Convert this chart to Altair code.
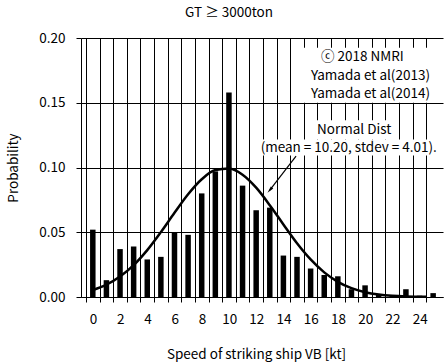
import altair as alt
import pandas as pd

FONT = "Noto Sans CJK JP"

# Histogram: speed bins (kt) and probabilities
speed = [0, 1, 2, 3, 4, 5, 6, 7, 8, 9, 10, 11, 12, 13, 14, 15, 16, 17, 18, 19, 20, 21, 22, 23, 24, 25]
prob = [0.052, 0.013, 0.037, 0.039, 0.029, 0.031, 0.050, 0.048, 0.080, 0.097,
        0.158, 0.086, 0.067, 0.069, 0.032, 0.031, 0.022, 0.017, 0.016, 0.006,
        0.009, 0.002, 0.001, 0.006, 0.001, 0.003]

# Normal distribution curve
curve_x = [0.5, 1.5, 2.5, 3.5, 4.5, 5.5, 6.5, 7.5, 8.5, 9.5, 10.5, 11.5, 12.5,
           13.5, 14.5, 15.5, 16.5, 17.5, 18.5, 19.5, 20.5, 21.5, 22.5, 23.5, 24.5, 25.0]
curve_y = [0.0053, 0.0095, 0.0158, 0.0246, 0.0362, 0.0501, 0.0650, 0.0793, 0.0909,
           0.0980, 0.0992, 0.0944, 0.0844, 0.0709, 0.0560, 0.0415, 0.0290, 0.0190,
           0.0117, 0.0068, 0.0037, 0.0019, 0.0009, 0.0004, 0.0002, 0.0001]

# Tick positions
x_ticks = [0, 1, 2, 3, 4, 5, 6, 7, 8, 9, 10, 11, 12, 13, 14, 15, 16, 17, 18, 19, 20, 21, 22, 23, 24, 25]
y_ticks = [0, 0.05, 0.10, 0.15, 0.20]

# Annotations
note_text = ["ⓒ 2018 NMRI", "Yamada et al(2013)", "Yamada et al(2014)",
             "Normal Dist", "(mean = 10.20, stdev = 4.01)."]
note_x = [20.3, 20.9, 20.9, 19.7, 19.3]
note_y = [0.1857, 0.1710, 0.1570, 0.1290, 0.1150]

# White boxes behind annotation text (data units)
box_x = [16.0, 16.7, 12.5]
box_x2 = [25.857, 22.7, 25.857]
box_y = [0.1500, 0.1365, 0.1093]
box_y2 = [0.1925, 0.1216, 0.1216]

arrow_x = [15.43]
arrow_y = [0.1087]
arrow_x2 = [13.5]
arrow_y2 = [0.0825]

bars_df = pd.DataFrame({"speed": speed, "prob": prob})
curve_df = pd.DataFrame({"x": curve_x, "y": curve_y})
notes_df = pd.DataFrame({"text": note_text, "x": note_x, "y": note_y})
boxes_df = pd.DataFrame({"x": box_x, "x2": box_x2, "y": box_y, "y2": box_y2})
arrow_df = pd.DataFrame({"x": arrow_x, "y": arrow_y, "x2": arrow_x2, "y2": arrow_y2})

xscale = alt.Scale(domain=[0, 25.857], nice=False, zero=False)
yscale = alt.Scale(domain=[0, 0.20], nice=False)

XT = "Speed of striking ship VB [kt]"
YT = "Probability"

xaxis = alt.Axis(
    values=x_ticks,
    labelExpr="(datum.value % 2 == 0 && datum.value <= 24) ? datum.value : ''",
    labelOffset=7, labelOverlap=False,
    grid=True, ticks=True, tickSize=5,
    labelPadding=10, titlePadding=22, titleX=175,
)
yaxis = alt.Axis(
    values=y_ticks, format=".2f",
    grid=True, ticks=True, tickSize=5,
    labelPadding=11, titlePadding=18,
)


def X(field):
    return alt.X(field, scale=xscale, axis=xaxis, title=XT)


def Y(field):
    return alt.Y(field, scale=yscale, axis=yaxis, title=YT)


boxes = alt.Chart(boxes_df).mark_rect(color="white", opacity=1).encode(
    x=X("x:Q"), x2="x2:Q", y=Y("y:Q"), y2="y2:Q",
)

bars = alt.Chart(bars_df).transform_calculate(
    xc="datum.speed + 0.5"
).mark_bar(size=5.5, color="black").encode(
    x=X("xc:Q"),
    y=Y("prob:Q"),
)

curve = alt.Chart(curve_df).mark_line(color="black", strokeWidth=2.5, interpolate="monotone").encode(
    x=X("x:Q"),
    y=Y("y:Q"),
)

notes = alt.Chart(notes_df).mark_text(font=FONT, fontSize=13.5, color="black", align="center", baseline="middle").encode(
    x=X("x:Q"),
    y=Y("y:Q"),
    text="text:N",
)

arrow_line = alt.Chart(arrow_df).mark_rule(color="black", strokeWidth=1.2).encode(
    x=X("x:Q"),
    y=Y("y:Q"),
    x2="x2:Q",
    y2="y2:Q",
)

arrow_head = alt.Chart(arrow_df).mark_point(
    shape="M0,-1L0.45,1L-0.45,1Z", filled=True, color="black", size=50, angle=220, opacity=1
).encode(
    x=X("x2:Q"),
    y=Y("y2:Q"),
)

chart = alt.layer(boxes, bars, curve, notes, arrow_line, arrow_head).properties(
    width=362,
    height=259,
    title=alt.TitleParams("GT ≥ 3000ton", font=FONT, fontSize=13.5, fontWeight="normal",
                          color="black", dx=-33, offset=12),
    autosize=alt.AutoSizeParams(type="none"),
    padding={"left": 81, "top": 38, "right": 1, "bottom": 66},
    background="white",
).configure_view(
    stroke=None
).configure_axis(
    grid=True, gridColor="#000000", gridWidth=1, gridOpacity=1,
    tickColor="#000000", tickWidth=1, tickOpacity=1,
    domainColor="#000000", domainWidth=1,
    labelFont=FONT, labelFontSize=13.5, labelColor="black",
    titleFont=FONT, titleFontSize=13.5, titleFontWeight="normal", titleColor="black",
)

chart.save("out.html", embed_options={"renderer": "svg", "actions": False})
